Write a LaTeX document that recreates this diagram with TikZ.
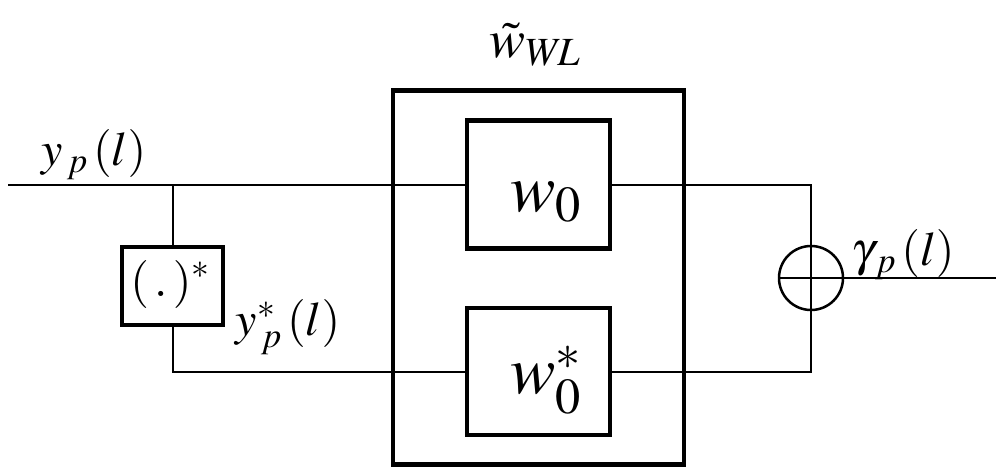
\documentclass[tikz,border=0pt]{standalone}
\usepackage{mathptmx}
\begin{document}
\begin{tikzpicture}[x=1pt,y=-1pt,
  thin line/.style={line width=2pt},
  blockbox/.style={draw,line width=4.5pt,inner sep=0pt},
  lbl/.style={inner sep=0pt,font=\fontsize{48}{52}\selectfont},
  big/.style={inner sep=0pt,font=\fontsize{68}{72}\selectfont}]
\useasboundingbox (0,0) rectangle (996,472);
% blocks
\node[blockbox,minimum width=291pt,minimum height=374pt] (wl) at (538.5,277.5) {};
\node[blockbox,minimum width=143pt,minimum height=128pt] (w0) at (538.5,184.5) {};
\node[blockbox,minimum width=143pt,minimum height=127pt] (w0s) at (538.5,371.5) {};
\node[blockbox,line width=4pt,minimum width=101pt,minimum height=78pt] (conj) at (172.5,286) {};
\node[draw,circle,line width=2.5pt,minimum size=64pt,inner sep=0pt] (sum) at (811,278) {};
% coordinates
\coordinate (in) at (8,184.5);
\coordinate (br) at (172.5,184.5);
\coordinate (out) at (996,278);
% connectors
\draw[thin line] (in) -- (w0.west);
\draw[thin line] (br) -- (conj.north);
\draw[thin line] (conj.south) |- (w0s.west);
\draw[thin line] (w0.east) -| (sum.north);
\draw[thin line] (w0s.east) -| (sum.south);
\draw[thin line] (sum.east) -- (out);
\draw[thin line] (sum.west) -- (sum.east);
\draw[thin line] (sum.north) -- (sum.south);
% texts
\node[lbl] (t1) at (94,155) {$y_{\,p}\,(l)$};
\node[lbl] (t2) at (288,327) {$y^{*}_{\,p}\,(l)$};
\node[lbl] (t3) at (903,255) {$\gamma_{\,p}\,(l)$};
\node[lbl,font=\fontsize{54}{58}\selectfont] (t4) at (535,45) {$\tilde{w}_{W\!L}$};
\node[lbl] (t5) at (170,284) {$(\,.\,)^{*}$};
\node[big] (t6) at (546,202) {$w_{0}$};
\node[big] (t7) at (546,380) {$w^{*}_{0}$};
\end{tikzpicture}
\end{document}
